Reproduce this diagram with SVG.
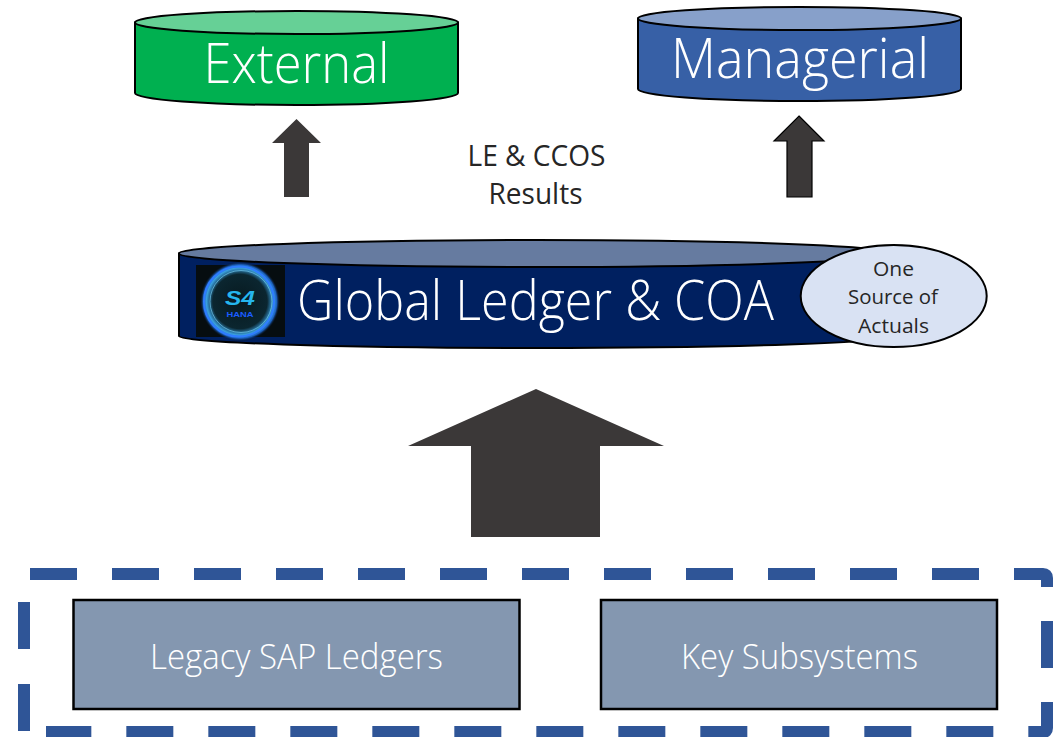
<svg xmlns="http://www.w3.org/2000/svg" width="1053" height="737" viewBox="0 0 1053 737">
<style>
text{font-family:"Open Sans","Noto Sans","Liberation Sans",sans-serif;font-weight:400}
.w{fill:#fff}.k{fill:#262626}
.big{font-size:56px;font-weight:300}.mid{font-size:30px}.sm{font-size:20.500px}.box{font-size:35px;fill:#fff;font-weight:300}
.logo{font-family:"Liberation Sans",sans-serif;font-weight:700}
.cy{stroke:#000;stroke-width:2}
.box-r{fill:#8497B0;stroke:#000;stroke-width:2.500}
.ar{fill:#3B3838}
</style>
<defs>
<radialGradient id="glow" cx="50%" cy="50%" r="50%">
<stop offset="0" stop-color="#08191f"/><stop offset=".68" stop-color="#0b2630"/><stop offset=".84" stop-color="#3aa0e0"/><stop offset=".92" stop-color="#1b5fc0"/><stop offset="1" stop-color="#060d10" stop-opacity="0"/>
</radialGradient>
</defs>
<rect width="1053" height="737" fill="#fff"/>
<g id="connectors">
<path class="ar" d="M296.500 119L321 143H309V197H284V143H272Z"/>
<path class="ar" stroke="#000" stroke-width="1.200" d="M799 116L824 141H812V197H787V141H774Z"/>
<path class="ar" d="M536 389L664 446H600V537H471V446H408Z"/>
</g>
<g id="external">
<path class="cy" fill="#00B050" d="M135 22.500V93A161.500 12 0 0 0 458 93V22.500Z"/>
<ellipse class="cy" fill="#66D096" cx="296.500" cy="22.500" rx="161.500" ry="11.500"/>
<text class="big w" x="296.500" y="83" text-anchor="middle" textLength="186" lengthAdjust="spacingAndGlyphs">External</text>
</g>
<g id="managerial">
<path class="cy" fill="#3760A6" d="M638 18.500V89A161.500 12 0 0 0 961 89V18.500Z"/>
<ellipse class="cy" fill="#87A0CA" cx="799.500" cy="18.500" rx="161.500" ry="11.500"/>
<text class="big w" x="800" y="78" text-anchor="middle" textLength="258" lengthAdjust="spacingAndGlyphs">Managerial</text>
</g>
<g id="results-label">
<text class="mid k" x="536.500" y="166" text-anchor="middle" textLength="138" lengthAdjust="spacingAndGlyphs">LE &amp; CCOS</text>
<text class="mid k" x="535.500" y="204" text-anchor="middle" textLength="94" lengthAdjust="spacingAndGlyphs">Results</text>
</g>
<g id="global-ledger">
<path class="cy" fill="#002060" d="M179 253.500V336A357 12 0 0 0 893 336V253.500Z"/>
<ellipse class="cy" fill="#667BA0" cx="536" cy="253.500" rx="357" ry="13.500"/>
<g id="logo">
<rect x="196" y="265" width="89" height="72" fill="#060d10"/>
<circle cx="240" cy="301.500" r="40" fill="url(#glow)"/>
<circle cx="239" cy="301.500" r="35" fill="none" stroke="#2f7cff" stroke-width="2"/>
<circle cx="241" cy="301.500" r="31" fill="none" stroke="#6fc4e8" stroke-width="1" opacity=".7"/>
<text class="logo" x="240" y="304.500" text-anchor="middle" font-size="21" font-style="italic" fill="#25b6ee" textLength="30" lengthAdjust="spacingAndGlyphs">S4</text>
<text class="logo" x="240" y="316.500" text-anchor="middle" font-size="8" fill="#1a5cff" textLength="27" lengthAdjust="spacingAndGlyphs">HANA</text>
</g>
<text class="big w" x="535.500" y="320" text-anchor="middle" textLength="477" lengthAdjust="spacingAndGlyphs">Global Ledger &amp; COA</text>
</g>
<g id="one-source">
<ellipse cx="893.700" cy="296" rx="93" ry="51" fill="#D9E2F3" stroke="#000" stroke-width="2"/>
<text class="sm k" x="893.500" y="275.500" text-anchor="middle" textLength="41" lengthAdjust="spacingAndGlyphs">One</text>
<text class="sm k" x="893" y="304" text-anchor="middle" textLength="90" lengthAdjust="spacingAndGlyphs">Source of</text>
<text class="sm k" x="893.500" y="332.500" text-anchor="middle" textLength="71" lengthAdjust="spacingAndGlyphs">Actuals</text>
</g>
<g id="boundary">
<path fill="none" stroke="#2F5597" stroke-width="12" stroke-dasharray="47 35" d="M30 574H1043Q1047 574 1047 578V587M1047 621V668M1047 702V728Q1047 732 1043 732H46M24 731V600"/>
</g>
<g id="legacy">
<rect class="box-r" x="73.500" y="600" width="446" height="109"/>
<text class="box" x="296.500" y="669" text-anchor="middle" textLength="293" lengthAdjust="spacingAndGlyphs">Legacy SAP Ledgers</text>
</g>
<g id="subsystems">
<rect class="box-r" x="601" y="600" width="396" height="109"/>
<text class="box" x="799.500" y="669" text-anchor="middle" textLength="237" lengthAdjust="spacingAndGlyphs">Key Subsystems</text>
</g>
</svg>
